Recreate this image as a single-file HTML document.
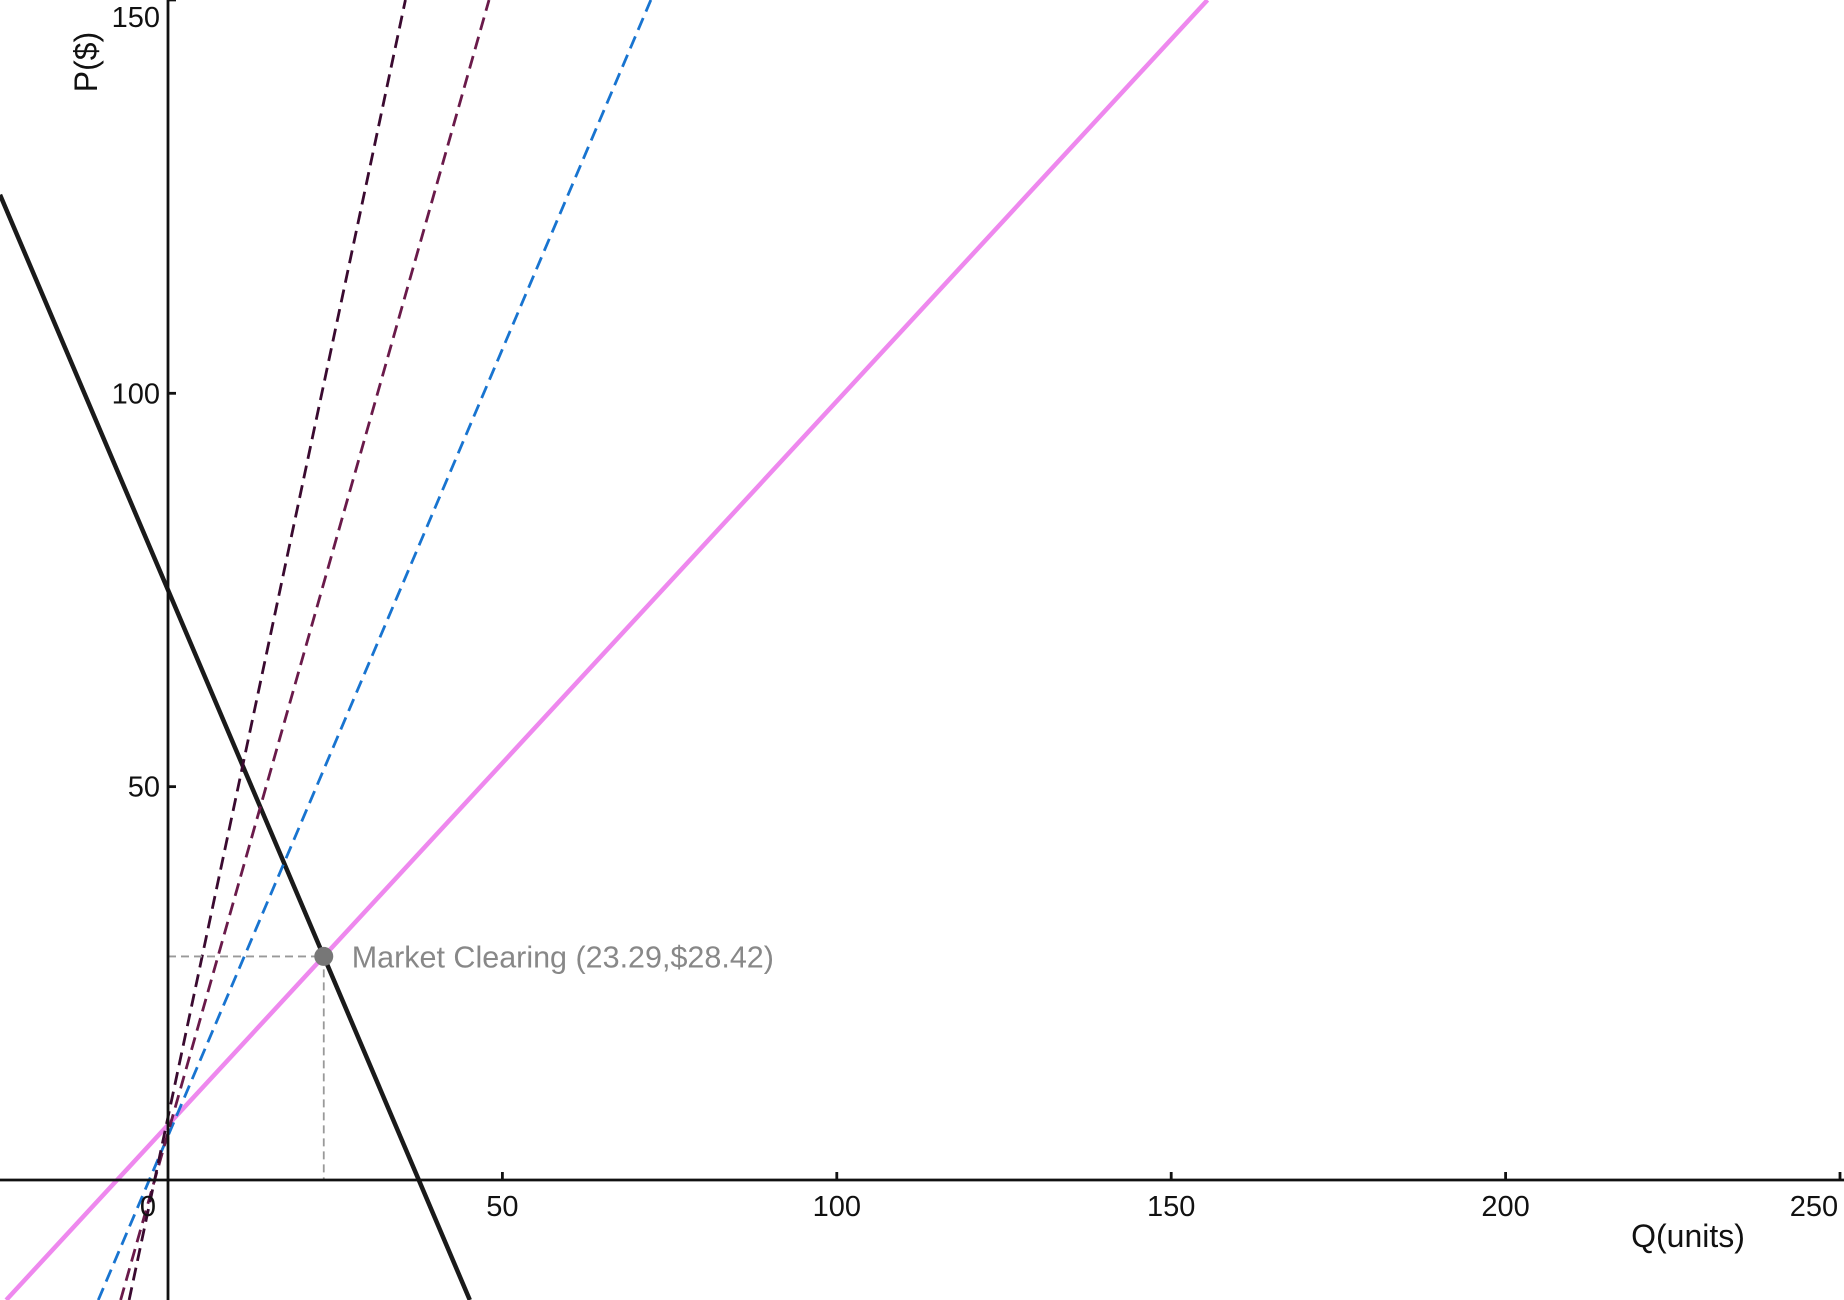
<!DOCTYPE html>
<html><head><meta charset="utf-8">
<style>
html,body{margin:0;padding:0;background:#fff;overflow:hidden;width:1844px;height:1300px;}
svg{display:block;position:absolute;left:0;top:0;font-family:"Liberation Sans",Arial,sans-serif;}
</style></head>
<body>
<svg id="chart" width="1844" height="1300" viewBox="0 0 1844 1300" xmlns="http://www.w3.org/2000/svg">
<g id="lines"></g>
<g id="axes"></g>
</svg>
<script>
const xTicks = [0, 50, 100, 150, 200, 250];
const yTicks = [50, 100, 150];
const lineNames = ['demand-curve', 'supply-curve', 'supply-dashed-blue', 'supply-dashed-maroon', 'supply-dashed-purple'];
const intercepts = [75, 7, 5.6, 6, 8];
const slopes = [-2, 0.92, 2, 3, 4];
const eqQ = [23.29];
const eqP = [28.42];

const NS = 'http://www.w3.org/2000/svg';
const X0 = 168, PXX = 6.688, Y0 = 1180, PXY = 7.867;
const sx = q => X0 + q * PXX;
const sy = p => Y0 - p * PXY;
const styles = [
  {stroke:'#1a1a1a', w:4.5, dash:null},
  {stroke:'#ee88ee', w:4.5, dash:null},
  {stroke:'#1874d0', w:2.8, dash:'13 7'},
  {stroke:'#6a1a4a', w:2.8, dash:'13 7'},
  {stroke:'#3a0a30', w:2.8, dash:'13 7'}
];
function mk(tag, attrs, parent){const e=document.createElementNS(NS,tag);for(const k in attrs)e.setAttribute(k,attrs[k]);parent.appendChild(e);return e;}
const gl = document.getElementById('lines');
const ga = document.getElementById('axes');
// visible data window
const qLo = (0 - X0) / PXX, qHi = (1844 - X0) / PXX;
const pHi = Y0 / PXY, pLo = (Y0 - 1300) / PXY;
for (let i = 0; i < slopes.length; i++) {
  const b = intercepts[i], s = slopes[i];
  let qa = qLo, qb = qHi;
  const q1 = (pLo - b) / s, q2 = (pHi - b) / s;
  qa = Math.max(qa, Math.min(q1, q2));
  qb = Math.min(qb, Math.max(q1, q2));
  const st = styles[i];
  const a = {x1:sx(qa), y1:sy(b+s*qa), x2:sx(qb), y2:sy(b+s*qb), stroke:st.stroke, 'stroke-width':st.w, fill:'none'};
  if (st.dash) a['stroke-dasharray'] = st.dash;
  const l = mk('line', a, gl);
  
  
}
const gh = mk('line', {x1:sx(0), y1:sy(eqP[0]), x2:sx(eqQ[0]), y2:sy(eqP[0]), stroke:'#999', 'stroke-width':1.8, 'stroke-dasharray':'8 5'}, gl);


const gv = mk('line', {x1:sx(eqQ[0]), y1:sy(eqP[0]), x2:sx(eqQ[0]), y2:sy(0), stroke:'#999', 'stroke-width':1.8, 'stroke-dasharray':'8 5'}, gl);


const xa = mk('line', {x1:0, y1:Y0, x2:1844, y2:Y0, stroke:'#111', 'stroke-width':2.8}, ga);


const ya = mk('line', {x1:X0, y1:0, x2:X0, y2:1300, stroke:'#111', 'stroke-width':2.8}, ga);


xTicks.forEach(t => {
  if (t !== 0) {
    const tk = mk('line', {x1:sx(t), y1:Y0-8, x2:sx(t), y2:Y0, stroke:'#111', 'stroke-width':2.8}, ga);
    
    
  }
  const tx = mk('text', {x: t===0 ? sx(t)-20 : (t===250 ? sx(t)-26 : sx(t)), y:Y0+36, 'font-size':29, fill:'#111', 'text-anchor':'middle'}, ga);
  tx.textContent = t;
  
  
});
yTicks.forEach(t => {
  const tk = mk('line', {x1:X0, y1:sy(t), x2:X0+8, y2:sy(t), stroke:'#111', 'stroke-width':2.8}, ga);
  
  
  const tx = mk('text', {x:X0-8, y:sy(t)+ (t===150 ? 27 : 10), 'font-size':29, fill:'#111', 'text-anchor':'end'}, ga);
  tx.textContent = t;
  
  
});
const xt = mk('text', {x:1688, y:1247, 'font-size':32, fill:'#111', 'text-anchor':'middle'}, ga);
xt.textContent = 'Q(units)';


const yt = mk('text', {x:0, y:0, 'font-size':32, fill:'#111', 'text-anchor':'middle', transform:'translate(97,62) rotate(-90)'}, ga);
yt.textContent = 'P($)';


const pt = mk('circle', {cx:sx(eqQ[0]), cy:sy(eqP[0]), r:9.5, fill:'#777'}, ga);


const lb = mk('text', {x:sx(eqQ[0])+28, y:sy(eqP[0])+11, 'font-size':30.5, fill:'#888'}, ga);
lb.textContent = 'Market Clearing (' + eqQ[0].toFixed(2) + ',$' + eqP[0].toFixed(2) + ')';


</script>
</body></html>
